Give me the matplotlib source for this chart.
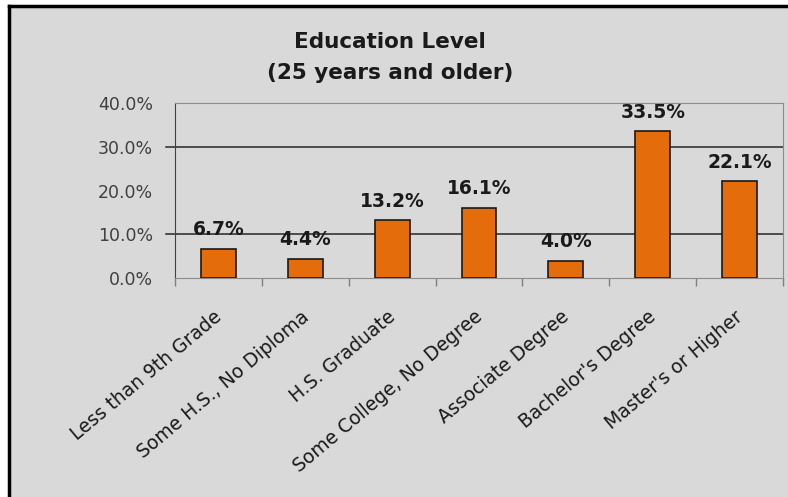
import matplotlib
matplotlib.use("Agg")
from matplotlib import pyplot as plt
from matplotlib.lines import Line2D
from matplotlib.patches import Rectangle
import matplotlib.transforms as mtransforms
import numpy as np

categories = ["Less than 9th Grade", "Some H.S., No Diploma", "H.S. Graduate",
              "Some College, No Degree", "Associate Degree", "Bachelor's Degree",
              "Master's or Higher"]
values = [6.7, 4.4, 13.2, 16.1, 4.0, 33.5, 22.1]
yticks = [0, 10, 20, 30, 40]

plt.rcParams['font.family'] = ['DejaVu Sans']
bg = '#d9d9d9'

fig = plt.figure(figsize=(7.88, 4.97), dpi=100)
fig.patch.set_facecolor('white')
# gray chart area with black left/top frame
fig.add_artist(Rectangle((9 / 788, 0), 1, 1 - 6 / 497, transform=fig.transFigure,
                         facecolor=bg, edgecolor='none', zorder=-10))
fig.add_artist(Line2D([9 / 788, 9 / 788], [0, 1 - 6 / 497], transform=fig.transFigure,
                      color='black', lw=2.5))
fig.add_artist(Line2D([9 / 788, 1], [1 - 6 / 497, 1 - 6 / 497], transform=fig.transFigure,
                      color='black', lw=2.5))

ax = fig.add_axes([175 / 788, 1 - 278 / 497, 608 / 788, 175 / 497])
ax.set_facecolor(bg)

x = np.arange(len(categories))
ax.bar(x, values, width=0.4, color='#e46c0a', edgecolor='#1a1a1a', linewidth=1.2, zorder=3)

for xi, v in zip(x, values):
    ax.annotate("%.1f%%" % v, (xi, v), xytext=(0, 7), textcoords='offset points',
                ha='center', va='bottom', fontsize=13.5, fontweight='bold', color='#1a1a1a')

# gridlines (only 10% and 30% are drawn in the original)
for g in [10, 30]:
    ax.axhline(g, xmin=-0.015, xmax=1, color='#262626', lw=1.1, clip_on=False, zorder=2)

ax.set_xlim(-0.5, len(categories) - 0.5)
ax.set_ylim(0, 40)
ax.set_yticks(yticks)
ax.set_yticklabels(["%.1f%%" % t for t in yticks], fontsize=12.5, color='#404040')
ax.tick_params(axis='y', length=0, pad=16)

ax.set_xticks(x)
ax.set_xticklabels(categories, rotation=40, ha='right', va='top', rotation_mode='anchor',
                   fontsize=13.5, color='#1a1a1a')
ax.set_xticks(np.arange(len(categories) + 1) - 0.5, minor=True)
ax.tick_params(axis='x', which='major', length=0, pad=21)
ax.tick_params(axis='x', which='minor', length=6, color='#808080', width=1)
shift = mtransforms.ScaledTranslation(-5 / 100, 0, fig.dpi_scale_trans)
for lbl in ax.get_xticklabels():
    lbl.set_transform(lbl.get_transform() + shift)

for side in ['top', 'right', 'bottom']:
    ax.spines[side].set_color('#8c8c8c')
ax.spines['left'].set_color('#404040')

fig.text(390 / 788, 1 - 42 / 497, "Education Level", ha='center', va='center',
         fontsize=15.5, fontweight='bold', color='#1a1a1a')
fig.text(390 / 788, 1 - 73 / 497, "(25 years and older)", ha='center', va='center',
         fontsize=15.5, fontweight='bold', color='#1a1a1a')

fig.savefig("out.png", dpi=100, facecolor=fig.get_facecolor())
